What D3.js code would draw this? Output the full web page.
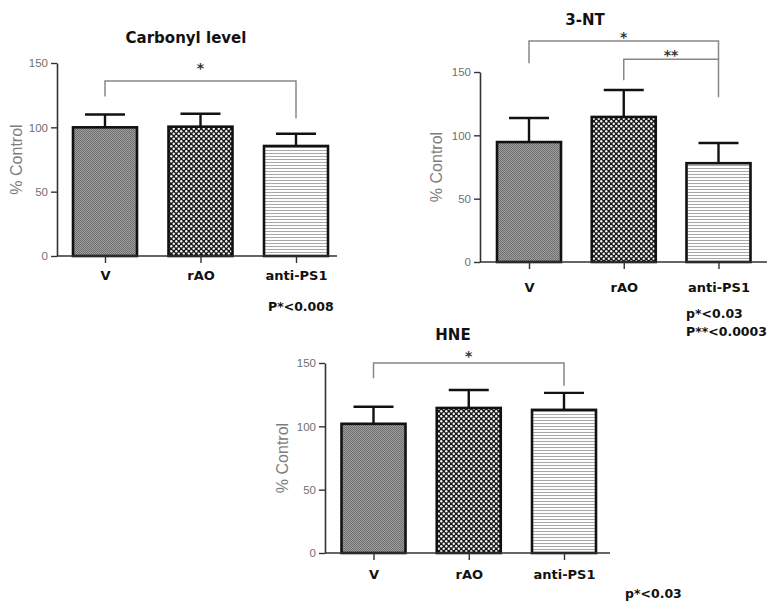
<!DOCTYPE html>
<html>
<head>
<meta charset="utf-8">
<script src="https://cdn.jsdelivr.net/npm/d3@7"></script>
<style>
  body { margin: 0; background: #fff; }
  svg { display: block; }
  .tick-y text { font-family: "Liberation Sans", Arial, sans-serif; font-size: 11.5px; }
  .tick-x text { font-family: "DejaVu Sans", Verdana, sans-serif; font-size: 13px; font-weight: bold; }
</style>
</head>
<body>
<div id="chart"></div>
<script>
// categories and tick values
var groups = ["V", "rAO", "anti-PS1"];
var yTicks = [0, 50, 100, 150];

// mean % control and SEM for each assay
var carbonylMean = [100, 100.5, 85.5];
var carbonylSem = [10, 10, 9.5];
var ntMean = [94.7, 114.5, 78];
var ntSem = [19, 21.3, 16];
var hneMean = [102, 114.5, 113];
var hneSem = [13.5, 14.2, 13.4];

// significance brackets: from, to, level, left end, right end, stars
var carbonylBrackets = [[0, 2, 136, 124, 107, "*"]];
var ntBrackets = [[0, 2, 174.5, 157, 160, "*"], [1, 2, 160, 143.5, 130, "**"]];
var hneBrackets = [[0, 2, 150, 138, 132, "*"]];

var carbonylNotes = ["P*<0.008"];
var ntNotes = ["p*<0.03", "P**<0.0003"];
var hneNotes = ["p*<0.03"];

var W = 779, H = 609;
var svg = d3.select("#chart").append("svg").attr("width", W).attr("height", H);

/* fill patterns */
var defs = svg.append("defs");
var pv = defs.append("pattern").attr("id", "pat-v").attr("patternUnits", "userSpaceOnUse")
    .attr("width", 2).attr("height", 2);
pv.append("rect").attr("width", 2).attr("height", 2).attr("fill", "#a0a0a0");
pv.append("rect").attr("width", 1).attr("height", 1).attr("fill", "#6e6e6e");
pv.append("rect").attr("x", 1).attr("y", 1).attr("width", 1).attr("height", 1).attr("fill", "#6e6e6e");

var pr = defs.append("pattern").attr("id", "pat-rao").attr("patternUnits", "userSpaceOnUse")
    .attr("width", 5).attr("height", 5);
pr.append("rect").attr("width", 5).attr("height", 5).attr("fill", "#1a1a1a");
pr.append("circle").attr("cx", 1.25).attr("cy", 1.25).attr("r", 1.2).attr("fill", "#f6f6f6");
pr.append("circle").attr("cx", 3.75).attr("cy", 3.75).attr("r", 1.2).attr("fill", "#f6f6f6");

var pa = defs.append("pattern").attr("id", "pat-anti").attr("patternUnits", "userSpaceOnUse")
    .attr("width", 3).attr("height", 3);
pa.append("rect").attr("width", 3).attr("height", 3).attr("fill", "#fdfdfd");
pa.append("rect").attr("y", 0).attr("width", 3).attr("height", 1).attr("fill", "#a8a8a8");

var fills = ["url(#pat-v)", "url(#pat-rao)", "url(#pat-anti)"];

var panels = [
    { title: "Carbonyl level", mean: carbonylMean, sem: carbonylSem, brackets: carbonylBrackets, notes: carbonylNotes,
      x0: 57, x1: 337, c0: 105, c1: 296, top: 63, bottom: 256, titleX: 186, titleY: 43, labelX: 16,
      xLabelOff: 19, starGap: 16, noteX: 268, noteY: 311 },
    { title: "3-NT", mean: ntMean, sem: ntSem, brackets: ntBrackets, notes: ntNotes,
      x0: 480, x1: 767, c0: 529, c1: 718.5, top: 72, bottom: 262, titleX: 585, titleY: 25, labelX: 436,
      xLabelOff: 25, starGap: 7, noteX: 686, noteY: 318 },
    { title: "HNE", mean: hneMean, sem: hneSem, brackets: hneBrackets, notes: hneNotes,
      x0: 325, x1: 610, c0: 373.5, c1: 564, top: 363, bottom: 553, titleX: 453, titleY: 340, labelX: 282,
      xLabelOff: 21, starGap: 10, noteX: 625, noteY: 598 }
];

var barW = 64, capHalf = 20;

panels.forEach(function (p) {
    var g = svg.append("g");
    var x = d3.scalePoint().domain(groups).range([p.c0, p.c1]);
    var y = d3.scaleLinear().domain([0, 150]).range([p.bottom, p.top]);

    // title
    g.append("text")
        .attr("x", p.titleX).attr("y", p.titleY)
        .attr("text-anchor", "middle")
        .attr("fill", "#111")
        .style("font-family", "DejaVu Sans, Verdana, sans-serif")
        .style("font-size", "15px").style("font-weight", "bold")
        .text(p.title);

    // y axis
    var ya = g.append("g").attr("class", "tick-y")
        .attr("transform", "translate(" + p.x0 + ",0)")
        .call(d3.axisLeft(y).tickValues(yTicks).tickSize(6).tickSizeOuter(0).tickPadding(3));
    ya.select(".domain").attr("stroke", "#333").attr("stroke-width", 1.6);
    ya.selectAll(".tick line").attr("stroke", "#333").attr("stroke-width", 1.4);
    ya.selectAll(".tick text").attr("fill", "#6f6f6f");

    g.append("text")
        .attr("transform", "translate(" + p.labelX + "," + ((p.top + p.bottom) / 2) + ") rotate(-90)")
        .attr("text-anchor", "middle").attr("dy", "0.35em")
        .attr("fill", "#7d7d7d")
        .style("font-family", "Liberation Sans, Arial, sans-serif")
        .style("font-size", "16px")
        .text("% Control");

    // bars
    var data = groups.map(function (k, i) { return { key: k, i: i, mean: p.mean[i], sem: p.sem[i] }; });

    // error bars (upper only)
    g.selectAll(".err").data(data).enter().append("line")
        .attr("x1", function (d) { return x(d.key); }).attr("x2", function (d) { return x(d.key); })
        .attr("y1", function (d) { return y(d.mean); }).attr("y2", function (d) { return y(d.mean + d.sem); })
        .attr("stroke", "#111").attr("stroke-width", 2.4);
    g.selectAll(".cap").data(data).enter().append("line")
        .attr("x1", function (d) { return x(d.key) - capHalf; }).attr("x2", function (d) { return x(d.key) + capHalf; })
        .attr("y1", function (d) { return y(d.mean + d.sem); }).attr("y2", function (d) { return y(d.mean + d.sem); })
        .attr("stroke", "#111").attr("stroke-width", 2.4);

    g.selectAll(".bar").data(data).enter().append("rect")
        .attr("x", function (d) { return x(d.key) - barW / 2; })
        .attr("y", function (d) { return y(d.mean); })
        .attr("width", barW)
        .attr("height", function (d) { return y(0) - y(d.mean); })
        .attr("fill", function (d) { return fills[d.i]; })
        .attr("stroke", "#111").attr("stroke-width", 2.6);

    // x axis
    var xa = g.append("g").attr("class", "tick-x")
        .attr("transform", "translate(0," + p.bottom + ")")
        .call(d3.axisBottom(x).tickSize(7).tickSizeOuter(0).tickPadding(p.xLabelOff - 11.5));
    xa.select(".domain").remove();
    xa.selectAll(".tick line").attr("stroke", "#333").attr("stroke-width", 1.4);
    xa.selectAll(".tick text").attr("fill", "#111");
    g.append("line")
        .attr("x1", p.x0).attr("x2", p.x1)
        .attr("y1", y(0)).attr("y2", y(0))
        .attr("stroke", "#333").attr("stroke-width", 1.6);

    // significance brackets
    p.brackets.forEach(function (b) {
        var xl = x(groups[b[0]]), xr = x(groups[b[1]]);
        g.append("path")
            .attr("d", "M" + xl + "," + y(b[3]) + "V" + y(b[2]) + "H" + xr + "V" + y(b[4]))
            .attr("fill", "none").attr("stroke", "#888").attr("stroke-width", 1.5);
        g.append("text")
            .attr("x", (xl + xr) / 2).attr("y", y(b[2]) - p.starGap + 8)
            .attr("text-anchor", "middle")
            .attr("fill", "#333")
            .style("font-family", "DejaVu Sans, Verdana, sans-serif")
            .style("font-size", "14px").style("font-weight", "bold")
            .text(b[5]);
    });

    // p-value notes
    p.notes.forEach(function (n, j) {
        g.append("text")
            .attr("x", p.noteX).attr("y", p.noteY + j * 18)
            .attr("fill", "#111")
            .style("font-family", "DejaVu Sans, Verdana, sans-serif")
            .style("font-size", "12.5px").style("font-weight", "bold")
            .text(n);
    });
});
</script>
</body>
</html>
